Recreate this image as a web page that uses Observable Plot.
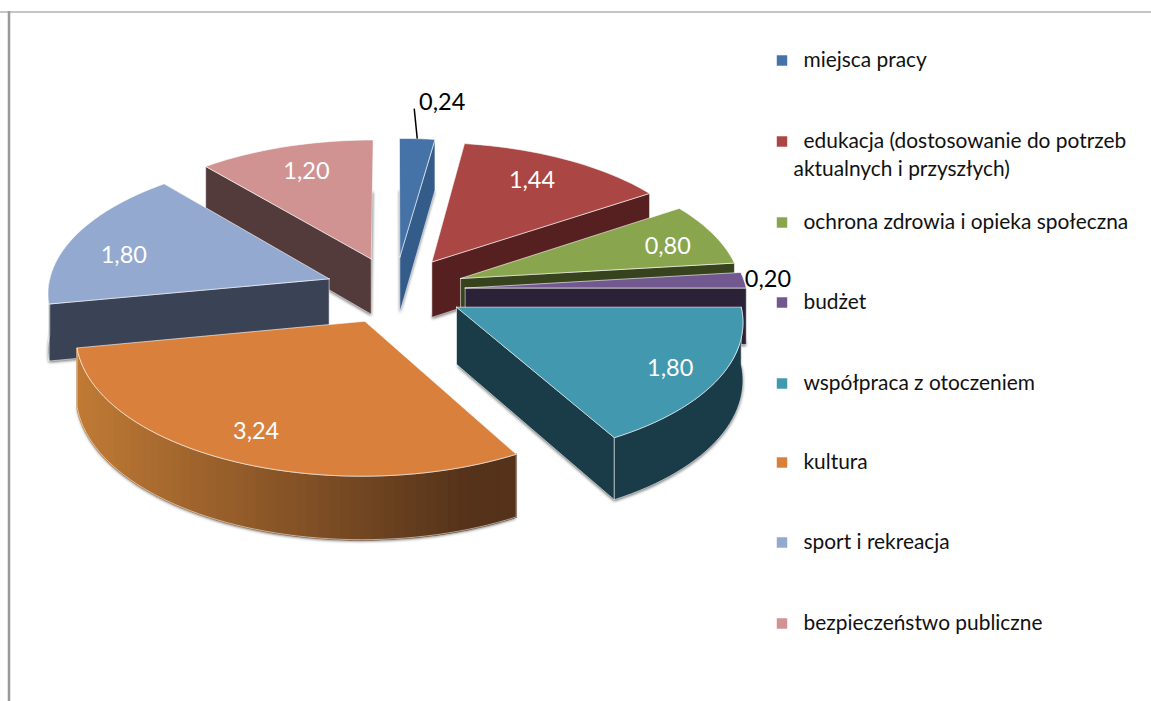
<!DOCTYPE html>
<html lang="pl"><head><meta charset="utf-8">
<style>html,body{margin:0;padding:0;background:#fff}svg{display:block}</style>
<script src="https://cdn.jsdelivr.net/npm/d3@7"></script>
<script src="https://cdn.jsdelivr.net/npm/@observablehq/plot@0.6"></script>
</head><body><div id="chart"></div>
<script>
const categories = ["miejsca pracy","edukacja (dostosowanie do potrzeb","ochrona zdrowia i opieka społeczna","budżet","współpraca z otoczeniem","kultura","sport i rekreacja","bezpieczeństwo publiczne"];
const values = [0.24,1.44,0.80,0.20,1.80,3.24,1.80,1.20];
const valueLabels = ["0,24","1,44","0,80","0,20","1,80","3,24","1,80","1,20"];
const topColors = ["#4572a7","#aa4643","#89a54e","#71588f","#4198af","#d9813c","#93a9cf","#d19392"];
const wallColors = ["#335c8a","#572020","#36431d","#2c2238","#1a3c48","#c07a35","#3a4255","#533a3b"];
const drawOrder = [7,0,1,2,3,6,4,5];
const legendRowY = [60,141,222,302,383,462,542,623];
const labelNudgeX = [0,-9,4,0,7,-3,-1,5];
const labelNudgeY = [0,1,4,0,4,1,11,4];

// layout of the exploded 3-D pie
const cx=394.5, cy=289.5, Rx=281.5, Ry=135, persp=0.09, depth=56.5, explode=0.25, labelRho=0.8;
const rad = d=>d*Math.PI/180;
const total = d3.sum(values);
const cum = d3.cumsum(values);
const slices = values.map((v,i)=>{
  const a1 = cum[i]/total*360, a0 = a1 - v/total*360, mid=(a0+a1)/2;
  return {i,a0,a1,mid,ou:explode*Math.sin(rad(mid)),ov:explode*Math.cos(rad(mid))};
});
const project=(s,a,rho,h=0)=>{
  const u=s.ou+rho*Math.sin(rad(a)), v=s.ov+rho*Math.cos(rad(a)), k=1/(1+persp*v);
  return {X:cx+Rx*u*k, Y:cy-Ry*v*k+depth*h*k};
};
const arc=(s,a0,a1,h)=>{
  const n=Math.max(2,Math.ceil((a1-a0)/2));
  return d3.range(n+1).map(j=>project(s,a0+(a1-a0)*j/n,1,h));
};
const poly=(pts,id,extra={})=>[...pts,pts[0]].map(p=>({...p,id,...extra}));
const line=(data,o)=>Plot.line(data,{x:"X",y:"Y",z:"id",curve:"linear",...o});

const marks=[
  Plot.ruleY([11.5],{stroke:"#8c8c8c",strokeWidth:1.2}),
  Plot.ruleX([8.5],{y1:11,y2:701,stroke:"#999",strokeWidth:2.5})
];
const orangeShade=d3.interpolateRgb("#c07a35","#55331a");
for(const i of drawOrder){
  const s=slices[i];
  const apexT=project(s,0,0,0), apexB=project(s,0,0,1);
  // soft shadow under the slice's bottom face
  const bottom=poly([apexB,...arc(s,s.a0,s.a1,1)],"sh"+i);
  marks.push(line(bottom,{fill:"#6e6e6e",strokeWidth:0,dy:1.5,imageFilter:"blur(1.5px)"}));
  // radial walls facing the viewer
  const radial=[];
  if(Math.sin(rad(s.a0))<-1e-6) radial.push(s.a0);
  if(Math.sin(rad(s.a1))>1e-6) radial.push(s.a1);
  for(const a of radial){
    const q=poly([apexT,project(s,a,1,0),project(s,a,1,1),apexB],"w"+i+"-"+a);
    marks.push(line(q,{fill:wallColors[i],stroke:"#fff",strokeOpacity:0.55,strokeWidth:1}));
  }
  // outer wall
  const f0=Math.max(s.a0,90), f1=Math.min(s.a1,270);
  if(f1>f0){
    const top=arc(s,f0,f1,0), bot=arc(s,f0,f1,1);
    if(i===5){
      const strips=d3.range(top.length-1).flatMap(j=>{
        const col=orangeShade(Math.min(1,Math.max(0,(top[j].X-78)/(470-78))));
        return poly([top[j],top[j+1],bot[j+1],bot[j]],"s"+i+"-"+j,{col});
      });
      marks.push(line(strips,{fill:{value:"col",scale:null},stroke:{value:"col",scale:null},strokeWidth:1.6}));
      marks.push(line(poly([...top,...bot.slice().reverse()],"o"+i),{stroke:"#fff",strokeOpacity:0.55,strokeWidth:1}));
    } else {
      marks.push(line(poly([...top,...bot.slice().reverse()],"o"+i),{fill:wallColors[i],stroke:"#fff",strokeOpacity:0.55,strokeWidth:1}));
    }
  }
  // top face
  const topFace=poly([apexT,...arc(s,s.a0,s.a1,0)],"t"+i,{cat:categories[i]});
  marks.push(line(topFace,{fill:"cat",stroke:"#fff",strokeOpacity:0.6,strokeWidth:1}));
}
// data labels
const inner=slices.filter(s=>![0,3].includes(s.i)).map(s=>{
  const p=project(s,s.mid,labelRho,0);
  return {X:p.X+labelNudgeX[s.i],Y:p.Y+labelNudgeY[s.i],t:valueLabels[s.i]};
});
marks.push(Plot.text(inner,{x:"X",y:"Y",text:"t",fill:"#fff",fontSize:23.5,fontFamily:"Lato",lineAnchor:"middle"}));
const rimBlue=project(slices[0],slices[0].mid,1,0), rimPurple=project(slices[3],slices[3].mid,1,0);
marks.push(Plot.link([rimBlue],{x1:"X",y1:"Y",x2:d=>d.X-3,y2:d=>d.Y-30,stroke:"#000",strokeWidth:1.5}));
marks.push(Plot.text([{...rimBlue,t:valueLabels[0]}],{x:"X",y:"Y",text:"t",dx:25,dy:-36,fill:"#000",fontSize:23.5,fontFamily:"Lato",lineAnchor:"middle"}));
marks.push(Plot.text([{...rimPurple,t:valueLabels[3]}],{x:"X",y:"Y",text:"t",dx:24,dy:-1,fill:"#000",fontSize:23.5,fontFamily:"Lato",lineAnchor:"middle"}));
// legend
const legend=categories.map((c,i)=>({c,y:legendRowY[i]}));
marks.push(Plot.dot(legend,{x:()=>781.5,y:"y",fill:"c",symbol:"square",r:5.9}));
marks.push(Plot.text(legend,{x:()=>803,y:"y",text:"c",textAnchor:"start",fontSize:20.9,fontFamily:"Lato",fill:"#111",lineAnchor:"middle"}));
marks.push(Plot.text([{t:"aktualnych i przyszłych)"}],{x:()=>793,y:()=>legendRowY[1]+28,text:"t",textAnchor:"start",fontSize:20.9,fontFamily:"Lato",fill:"#111",lineAnchor:"middle"}));

const chart=Plot.plot({width:1151,height:701,margin:0,
  x:{domain:[0,1151],range:[0,1151],axis:null},
  y:{domain:[0,701],range:[0,701],axis:null},
  color:{domain:categories,range:topColors},
  style:{background:"#fff",fontFamily:"Lato"},
  marks});
document.getElementById("chart").append(chart);
</script></body></html>
